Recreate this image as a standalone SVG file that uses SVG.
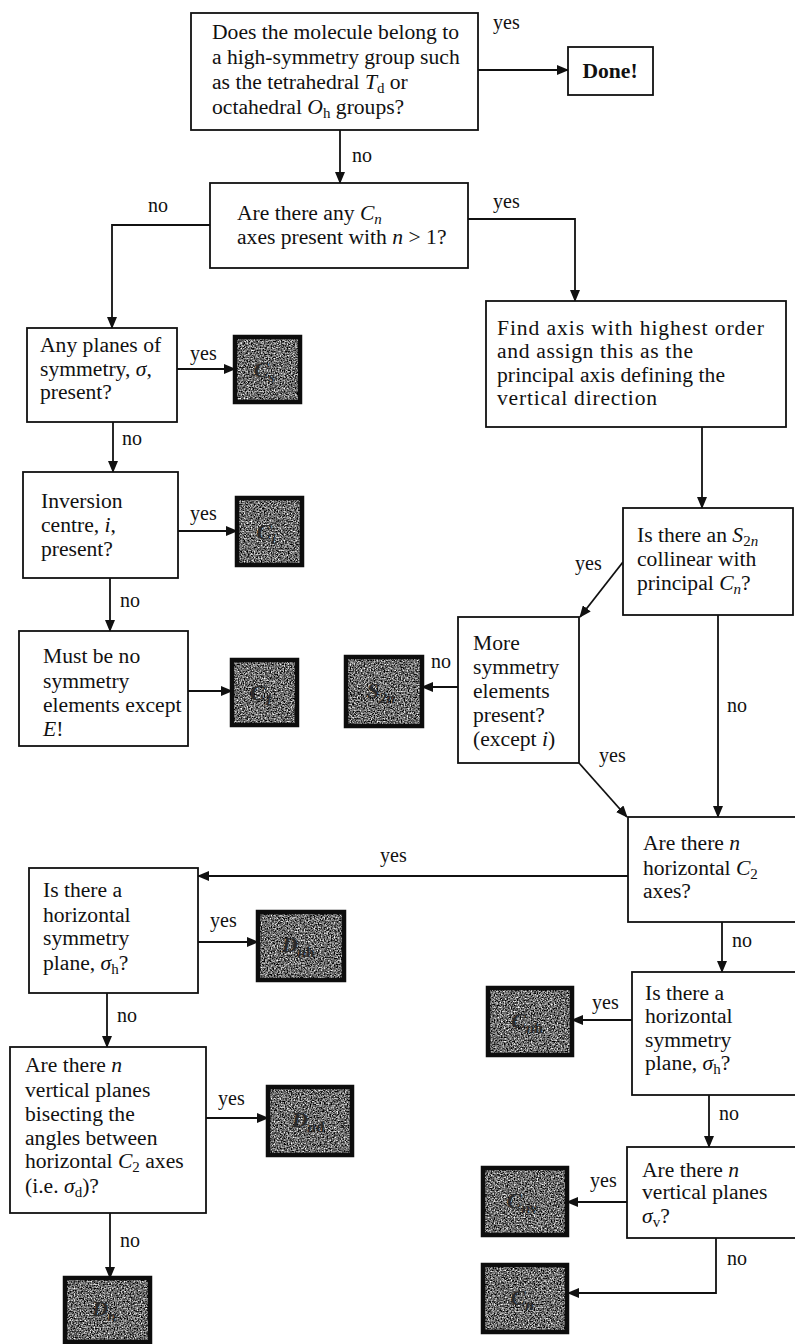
<svg xmlns="http://www.w3.org/2000/svg" width="795" height="1344" viewBox="0 0 795 1344">
<style>
.box{fill:#fff;stroke:#111;stroke-width:1.8}
.t{font-family:"Liberation Serif","Times New Roman",serif;font-size:21.6px;fill:#111}
.lab{font-family:"Liberation Serif","Times New Roman",serif;font-size:20px;fill:#111}
.i{font-style:italic}
.dk{stroke:#0d0d0d;stroke-width:4.5;fill:none}
.dl{font-family:"Liberation Serif","Times New Roman",serif;font-size:22px;font-weight:bold;font-style:italic;fill:#2a2a2a;text-anchor:middle}
.c{fill:none;stroke:#111;stroke-width:1.8}
</style>
<defs>
<marker id="ah" markerUnits="userSpaceOnUse" markerWidth="12" markerHeight="10" refX="11" refY="5" orient="auto">
<path d="M0,0 L12,5 L0,10 z" fill="#111"/>
</marker>
<filter id="grain" x="0" y="0" width="1" height="1" color-interpolation-filters="sRGB">
<feTurbulence type="fractalNoise" baseFrequency="0.7" numOctaves="2" seed="4"/>
<feColorMatrix type="saturate" values="0"/>
<feComponentTransfer>
<feFuncR type="linear" slope="2.4" intercept="-0.78"/>
<feFuncG type="linear" slope="2.4" intercept="-0.78"/>
<feFuncB type="linear" slope="2.4" intercept="-0.78"/>
<feFuncA type="linear" slope="0" intercept="1"/>
</feComponentTransfer>
</filter>
</defs>

<g id="connectors">
<path class="c" d="M478,70 H568" marker-end="url(#ah)"/>
<path class="c" d="M340,130 V183" marker-end="url(#ah)"/>
<path class="c" d="M210,225 H112 V328" marker-end="url(#ah)"/>
<path class="c" d="M468,219 H575 V301" marker-end="url(#ah)"/>
<path class="c" d="M177,369 H235" marker-end="url(#ah)"/>
<path class="c" d="M113,422 V472" marker-end="url(#ah)"/>
<path class="c" d="M178,531 H237" marker-end="url(#ah)"/>
<path class="c" d="M110,578 V631" marker-end="url(#ah)"/>
<path class="c" d="M188,691 H232" marker-end="url(#ah)"/>
<path class="c" d="M702,427 V508" marker-end="url(#ah)"/>
<path class="c" d="M623,562 L580,617" marker-end="url(#ah)"/>
<path class="c" d="M458,687 H422" marker-end="url(#ah)"/>
<path class="c" d="M579,763 L627,817" marker-end="url(#ah)"/>
<path class="c" d="M718,615 V817" marker-end="url(#ah)"/>
<path class="c" d="M628,876 H198" marker-end="url(#ah)"/>
<path class="c" d="M198,942 H258" marker-end="url(#ah)"/>
<path class="c" d="M107,993 V1047" marker-end="url(#ah)"/>
<path class="c" d="M206,1118 H268" marker-end="url(#ah)"/>
<path class="c" d="M110,1213 V1278" marker-end="url(#ah)"/>
<path class="c" d="M722,922 V972" marker-end="url(#ah)"/>
<path class="c" d="M632,1020 H572" marker-end="url(#ah)"/>
<path class="c" d="M709,1095 V1147" marker-end="url(#ah)"/>
<path class="c" d="M627,1202 H567" marker-end="url(#ah)"/>
<path class="c" d="M716,1238 V1293 H568" marker-end="url(#ah)"/>
<text class="lab" x="493" y="29">yes</text>
<text class="lab" x="352" y="162">no</text>
<text class="lab" x="148" y="212">no</text>
<text class="lab" x="493" y="208">yes</text>
<text class="lab" x="190" y="360">yes</text>
<text class="lab" x="122" y="445">no</text>
<text class="lab" x="190" y="520">yes</text>
<text class="lab" x="120" y="607">no</text>
<text class="lab" x="575" y="570">yes</text>
<text class="lab" x="431" y="668">no</text>
<text class="lab" x="599" y="762">yes</text>
<text class="lab" x="727" y="712">no</text>
<text class="lab" x="380" y="862">yes</text>
<text class="lab" x="210" y="927">yes</text>
<text class="lab" x="117" y="1022">no</text>
<text class="lab" x="218" y="1105">yes</text>
<text class="lab" x="120" y="1247">no</text>
<text class="lab" x="732" y="947">no</text>
<text class="lab" x="592" y="1009">yes</text>
<text class="lab" x="719" y="1120">no</text>
<text class="lab" x="590" y="1187">yes</text>
<text class="lab" x="727" y="1265">no</text>
</g>

<g id="q-highsym">
<rect class="box" x="191" y="13" width="287" height="117"/>
<text class="t" x="212" y="39">Does the molecule belong to</text>
<text class="t" x="212" y="64">a high-symmetry group such</text>
<text class="t" x="212" y="89">as the tetrahedral <tspan class="i">T</tspan><tspan font-size="15" dy="4">d</tspan><tspan dy="-4"> or</tspan></text>
<text class="t" x="212" y="114">octahedral <tspan class="i">O</tspan><tspan font-size="15" dy="4">h</tspan><tspan dy="-4"> groups?</tspan></text>
</g>

<g id="done">
<rect class="box" x="568" y="47" width="85" height="48"/>
<text class="t" x="610" y="78" text-anchor="middle" font-weight="bold">Done!</text>
</g>

<g id="q-cn">
<rect class="box" x="210" y="183" width="258" height="85"/>
<text class="t" x="237" y="220">Are there any <tspan class="i">C</tspan><tspan class="i" font-size="15" dy="4">n</tspan></text>
<text class="t" x="237" y="244">axes present with <tspan class="i">n</tspan> &gt; 1?</text>
</g>

<g id="q-planes">
<rect class="box" x="27" y="328" width="150" height="94"/>
<text class="t" x="40" y="352">Any planes of</text>
<text class="t" x="40" y="376">symmetry, <tspan class="i">σ</tspan>,</text>
<text class="t" x="40" y="399">present?</text>
</g>

<g id="res-cs">
<rect x="235" y="337" width="65" height="65" fill="#666" filter="url(#grain)"/>
<rect class="dk" x="235" y="337" width="65" height="65"/>
<text class="dl" x="264" y="377">C<tspan font-size="15" dy="5">s</tspan></text>
</g>

<g id="q-inversion">
<rect class="box" x="23" y="472" width="155" height="106"/>
<text class="t" x="41" y="508">Inversion</text>
<text class="t" x="41" y="532">centre, <tspan class="i">i</tspan>,</text>
<text class="t" x="41" y="556">present?</text>
</g>

<g id="res-ci">
<rect x="237" y="498" width="65" height="67" fill="#666" filter="url(#grain)"/>
<rect class="dk" x="237" y="498" width="65" height="67"/>
<text class="dl" x="266" y="539">C<tspan font-size="15" dy="5">i</tspan></text>
</g>

<g id="q-none">
<rect class="box" x="19" y="631" width="169" height="115"/>
<text class="t" x="43" y="663">Must be no</text>
<text class="t" x="43" y="688">symmetry</text>
<text class="t" x="43" y="712">elements except</text>
<text class="t" x="43" y="736"><tspan class="i">E</tspan>!</text>
</g>

<g id="res-c1">
<rect x="232" y="660" width="65" height="65" fill="#666" filter="url(#grain)"/>
<rect class="dk" x="232" y="660" width="65" height="65"/>
<text class="dl" x="261" y="700">C<tspan font-size="15" dy="5">1</tspan></text>
</g>

<g id="find-axis">
<rect class="box" x="486" y="301" width="300" height="126"/>
<text class="t" x="497" y="335" textLength="267" lengthAdjust="spacing">Find axis with highest order</text>
<text class="t" x="497" y="358" textLength="196" lengthAdjust="spacing">and assign this as the</text>
<text class="t" x="497" y="382" textLength="228" lengthAdjust="spacing">principal axis defining the</text>
<text class="t" x="497" y="405" textLength="160" lengthAdjust="spacing">vertical direction</text>
</g>

<g id="q-s2n">
<rect class="box" x="623" y="508" width="170" height="107"/>
<text class="t" x="637" y="542">Is there an <tspan class="i">S</tspan><tspan font-size="15" dy="4">2</tspan><tspan class="i" font-size="15">n</tspan></text>
<text class="t" x="637" y="566">collinear with</text>
<text class="t" x="637" y="590">principal <tspan class="i">C</tspan><tspan class="i" font-size="15" dy="4">n</tspan><tspan dy="-4">?</tspan></text>
</g>

<g id="q-more">
<rect class="box" x="458" y="617" width="121" height="146"/>
<text class="t" x="473" y="650">More</text>
<text class="t" x="473" y="674">symmetry</text>
<text class="t" x="473" y="698">elements</text>
<text class="t" x="473" y="722">present?</text>
<text class="t" x="473" y="746">(except <tspan class="i">i</tspan>)</text>
</g>

<g id="res-s2n">
<rect x="346" y="657" width="76" height="69" fill="#666" filter="url(#grain)"/>
<rect class="dk" x="346" y="657" width="76" height="69"/>
<text class="dl" x="381" y="698">S<tspan font-size="15" dy="5">2n</tspan></text>
</g>

<g id="q-hc2">
<rect class="box" x="628" y="817" width="170" height="105"/>
<text class="t" x="643" y="850">Are there <tspan class="i">n</tspan></text>
<text class="t" x="643" y="875">horizontal <tspan class="i">C</tspan><tspan font-size="15" dy="4">2</tspan></text>
<text class="t" x="643" y="898">axes?</text>
</g>

<g id="q-sigmah-d">
<rect class="box" x="29" y="868" width="169" height="125"/>
<text class="t" x="43" y="897">Is there a</text>
<text class="t" x="43" y="922">horizontal</text>
<text class="t" x="43" y="945">symmetry</text>
<text class="t" x="43" y="970">plane, <tspan class="i">σ</tspan><tspan font-size="15" dy="4">h</tspan><tspan dy="-4">?</tspan></text>
</g>

<g id="res-dnh">
<rect x="258" y="912" width="86" height="68" fill="#666" filter="url(#grain)"/>
<rect class="dk" x="258" y="912" width="86" height="68"/>
<text class="dl" x="298" y="952">D<tspan font-size="15" dy="5">n</tspan><tspan font-size="15" font-style="normal">h</tspan></text>
</g>

<g id="q-sigmad">
<rect class="box" x="10" y="1047" width="196" height="166"/>
<text class="t" x="25" y="1072">Are there <tspan class="i">n</tspan></text>
<text class="t" x="25" y="1097">vertical planes</text>
<text class="t" x="25" y="1121">bisecting the</text>
<text class="t" x="25" y="1145">angles between</text>
<text class="t" x="25" y="1168">horizontal <tspan class="i">C</tspan><tspan font-size="15" dy="4">2</tspan><tspan dy="-4"> axes</tspan></text>
<text class="t" x="25" y="1193">(i.e. <tspan class="i">σ</tspan><tspan font-size="15" dy="4">d</tspan><tspan dy="-4">)?</tspan></text>
</g>

<g id="res-dnd">
<rect x="268" y="1087" width="84" height="68" fill="#666" filter="url(#grain)"/>
<rect class="dk" x="268" y="1087" width="84" height="68"/>
<text class="dl" x="308" y="1127">D<tspan font-size="15" dy="5">n</tspan><tspan font-size="15" font-style="normal">d</tspan></text>
</g>

<g id="res-dn">
<rect x="65" y="1278" width="85" height="64" fill="#666" filter="url(#grain)"/>
<rect class="dk" x="65" y="1278" width="85" height="64"/>
<text class="dl" x="104" y="1316">D<tspan font-size="15" dy="5">n</tspan></text>
</g>

<g id="q-sigmah-c">
<rect class="box" x="632" y="972" width="166" height="123"/>
<text class="t" x="645" y="1000">Is there a</text>
<text class="t" x="645" y="1023">horizontal</text>
<text class="t" x="645" y="1047">symmetry</text>
<text class="t" x="645" y="1070">plane, <tspan class="i">σ</tspan><tspan font-size="15" dy="4">h</tspan><tspan dy="-4">?</tspan></text>
</g>

<g id="res-cnh">
<rect x="488" y="988" width="84" height="67" fill="#666" filter="url(#grain)"/>
<rect class="dk" x="488" y="988" width="84" height="67"/>
<text class="dl" x="527" y="1028">C<tspan font-size="15" dy="5">n</tspan><tspan font-size="15" font-style="normal">h</tspan></text>
</g>

<g id="q-sigmav">
<rect class="box" x="627" y="1147" width="171" height="91"/>
<text class="t" x="642" y="1177">Are there <tspan class="i">n</tspan></text>
<text class="t" x="642" y="1199">vertical planes</text>
<text class="t" x="642" y="1223"><tspan class="i">σ</tspan><tspan font-size="15" dy="4">v</tspan><tspan dy="-4">?</tspan></text>
</g>

<g id="res-cnv">
<rect x="483" y="1168" width="84" height="67" fill="#666" filter="url(#grain)"/>
<rect class="dk" x="483" y="1168" width="84" height="67"/>
<text class="dl" x="522" y="1208">C<tspan font-size="15" dy="5">n</tspan><tspan font-size="15" font-style="normal">v</tspan></text>
</g>

<g id="res-cn">
<rect x="483" y="1265" width="84" height="67" fill="#666" filter="url(#grain)"/>
<rect class="dk" x="483" y="1265" width="84" height="67"/>
<text class="dl" x="522" y="1305">C<tspan font-size="15" dy="5">n</tspan></text>
</g>
</svg>
